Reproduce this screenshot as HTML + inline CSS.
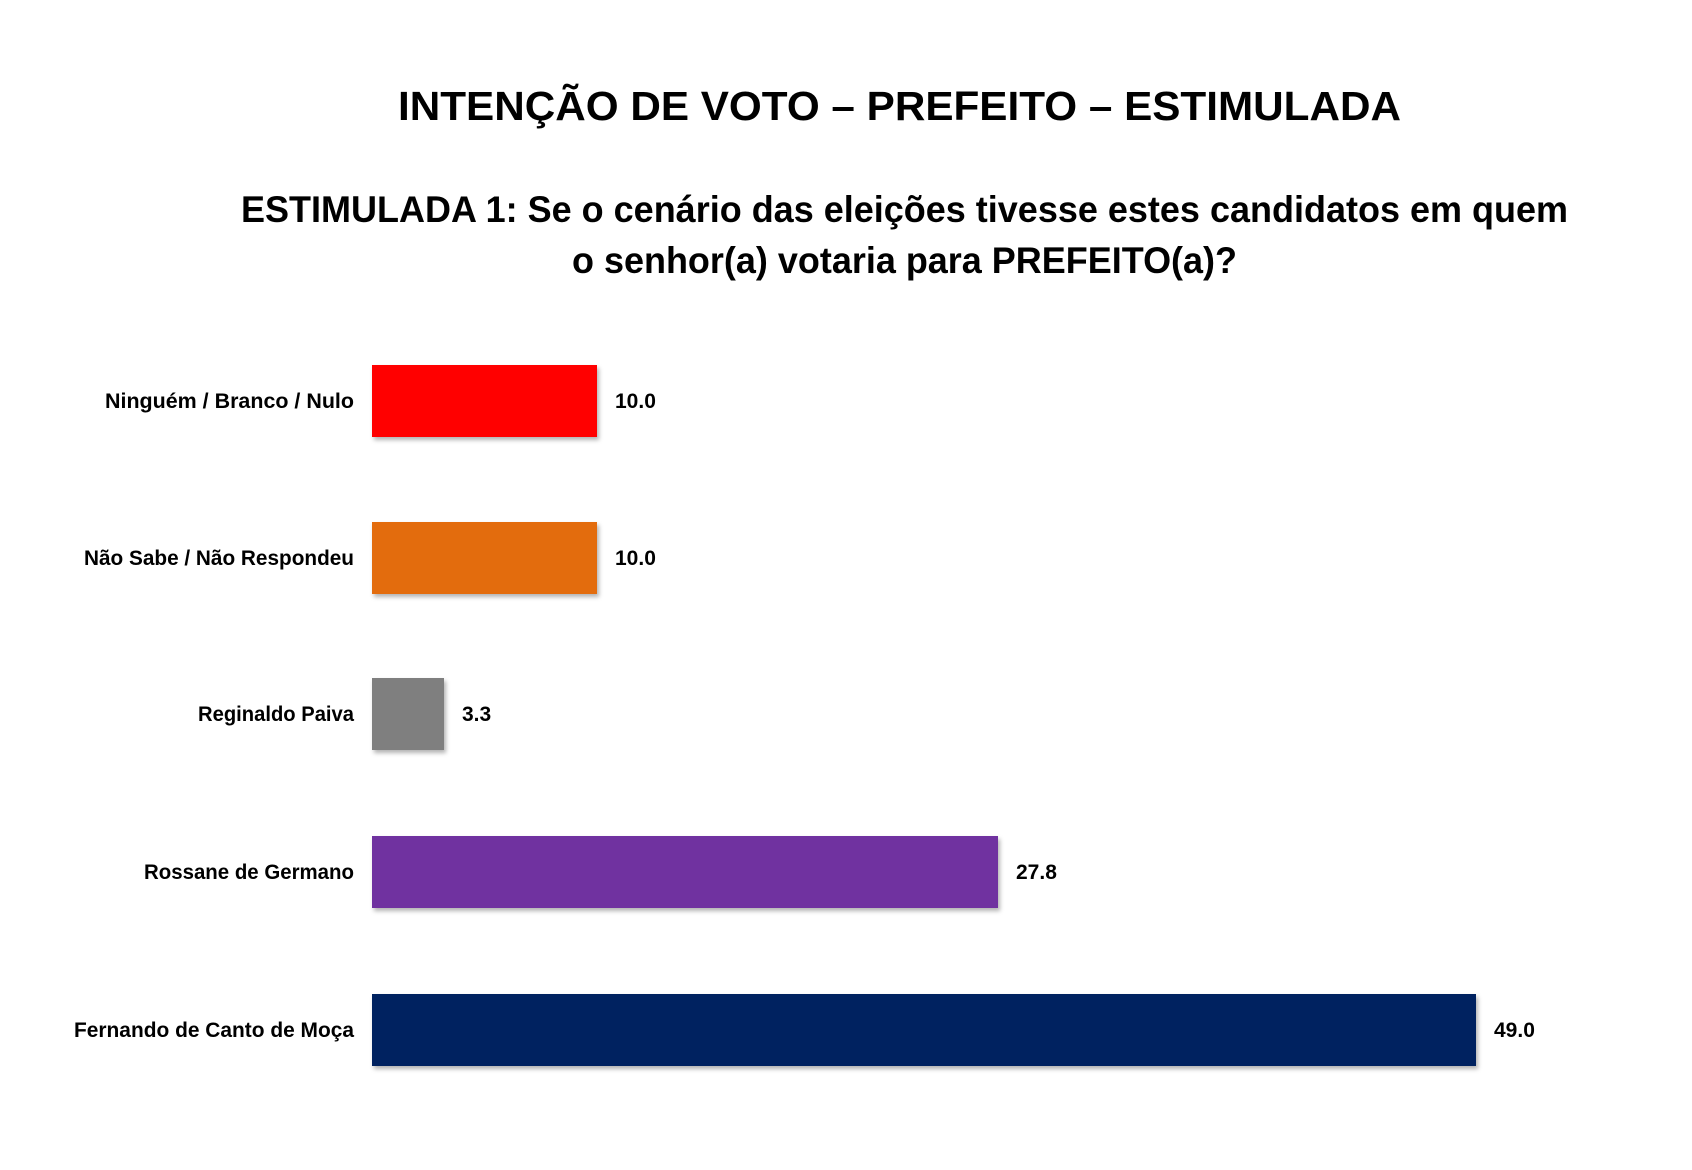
<!DOCTYPE html>
<html><head><meta charset="utf-8"><style>
html,body{margin:0;padding:0;background:#fff}
svg{display:block}
text{font-family:"Liberation Sans",sans-serif;font-weight:bold;fill:#000}
</style></head><body>
<svg width="1692" height="1170" viewBox="0 0 1692 1170" xmlns="http://www.w3.org/2000/svg">
<defs><filter id="sh" x="-5%" y="-10%" width="110%" height="130%"><feDropShadow dx="2" dy="3" stdDeviation="2" flood-color="#000" flood-opacity="0.3"/></filter></defs>
<text x="398" y="120" font-size="41" textLength="1003" lengthAdjust="spacingAndGlyphs">INTENÇÃO DE VOTO – PREFEITO – ESTIMULADA</text>
<text x="241" y="222" font-size="37" textLength="1327" lengthAdjust="spacingAndGlyphs">ESTIMULADA 1: Se o cenário das eleições tivesse estes candidatos em quem</text>
<text x="572" y="273" font-size="37" textLength="665" lengthAdjust="spacingAndGlyphs">o senhor(a) votaria para PREFEITO(a)?</text>
<g filter="url(#sh)">
<rect x="372" y="365" width="225" height="72" fill="#ff0000"/>
<rect x="372" y="522" width="225" height="72" fill="#e36c0a"/>
<rect x="372" y="678" width="72" height="72" fill="#7f7f7f"/>
<rect x="372" y="836" width="626" height="72" fill="#7030a0"/>
<rect x="372" y="994" width="1104" height="72" fill="#002060"/>
</g>
<g font-size="21" text-anchor="end">
<text x="354" y="408" textLength="249" lengthAdjust="spacingAndGlyphs">Ninguém / Branco / Nulo</text>
<text x="354" y="565" textLength="270" lengthAdjust="spacingAndGlyphs">Não Sabe / Não Respondeu</text>
<text x="354" y="721" textLength="156" lengthAdjust="spacingAndGlyphs">Reginaldo Paiva</text>
<text x="354" y="879" textLength="210" lengthAdjust="spacingAndGlyphs">Rossane de Germano</text>
<text x="354" y="1037" textLength="280" lengthAdjust="spacingAndGlyphs">Fernando de Canto de Moça</text>
</g>
<g font-size="21">
<text x="615" y="408">10.0</text>
<text x="615" y="565">10.0</text>
<text x="462" y="721">3.3</text>
<text x="1016" y="879">27.8</text>
<text x="1494" y="1037">49.0</text>
</g>
</svg>
</body></html>
